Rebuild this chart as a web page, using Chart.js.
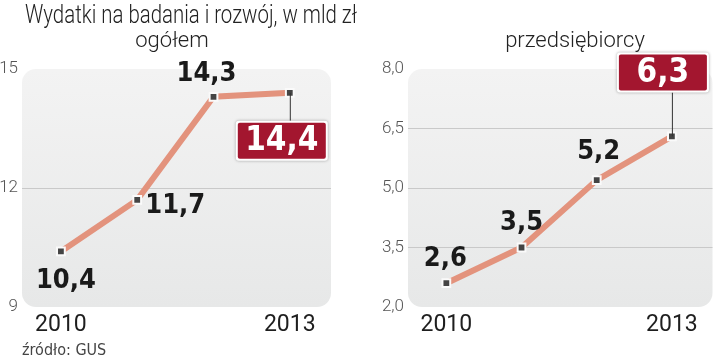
<!DOCTYPE html>
<html>
<head>
<meta charset="utf-8">
<script src="https://cdn.jsdelivr.net/npm/chart.js@4"></script>
<style>
  body { margin: 0; background: #fff; width: 720px; height: 360px; overflow: hidden; position: relative; font-family: "DejaVu Sans Condensed", sans-serif; }
  .pane { position: absolute; top: 0; width: 360px; height: 360px; }
  .txt { position: absolute; white-space: nowrap; color: #222; }
  #title { left: 25px; top: 0px; font-family: Roboto, sans-serif; font-size: 25px; font-weight: 300; transform-origin: 0 0; }
  .sub { top: 27px; font-family: Roboto, sans-serif; font-size: 22px; font-weight: 300; width: 200px; text-align: center; }
  #src { left: 22px; top: 340px; font-size: 16px; color: #444; }
</style>
</head>
<body>
<div class="pane" style="left:0"><canvas id="chartTotal"></canvas></div>
<div class="pane" style="left:360px"><canvas id="chartBiz"></canvas></div>
<div class="txt" id="title">Wydatki na badania i rozwój, w mld zł</div>
<div class="txt sub" style="left:72px">ogółem</div>
<div class="txt sub" style="left:475px">przedsiębiorcy</div>
<div class="txt" id="src">źródło: GUS</div>
<script>
// data
const years = [2010, 2011, 2012, 2013];
const totalSpend = [10.4, 11.7, 14.3, 14.4];
const bizSpend = [2.6, 3.5, 5.2, 6.3];
const totalTicks = [9, 12, 15];
const bizTicks = [2.0, 3.5, 5.0, 6.5, 8.0];
const shownYears = [2010, 2013];

// where each value label sits relative to its point: [dx, dy, boxed]
const totalLabelPos = [[5, 30, false], [38, 6, false], [-7, -23, false], [-8, 48, true]];
const bizLabelPos = [[-1, -24, false], [0, -25, false], [2, -28, false], [-9, -64, true]];

const fmt = v => v.toFixed(1).replace('.', ',');
const labelFont = '"DejaVu Sans Condensed", sans-serif';

// squeeze the headline to the width it has in the print layout
const title = document.getElementById('title');
title.style.transform = 'scaleX(' + (332 / title.getBoundingClientRect().width) + ')';

const panelBg = {
  id: 'panelBg',
  beforeDraw(chart) {
    const a = chart.chartArea, ctx = chart.ctx;
    const g = ctx.createLinearGradient(0, a.top, 0, a.bottom);
    g.addColorStop(0, '#f3f3f3');
    g.addColorStop(1, '#e7e8e8');
    ctx.save();
    ctx.fillStyle = g;
    ctx.beginPath();
    ctx.roundRect(a.left, a.top, a.right - a.left, a.bottom - a.top, 14);
    ctx.fill();
    ctx.restore();
  }
};

const valueLabels = {
  id: 'valueLabels',
  afterDatasetsDraw(chart, args, opts) {
    const ctx = chart.ctx;
    const meta = chart.getDatasetMeta(0);
    const vals = chart.data.datasets[0].data;
    meta.data.forEach((pt, i) => {
      const [dx, dy, boxed] = opts.pos[i];
      const x = pt.x + dx, y = pt.y + dy;
      const text = fmt(vals[i].y);
      ctx.save();
      ctx.textAlign = 'center';
      ctx.textBaseline = 'middle';
      if (boxed) {
        const w = 92, h = 40;
        ctx.strokeStyle = '#333';
        ctx.lineWidth = 1;
        ctx.beginPath();
        ctx.moveTo(pt.x + 0.5, pt.y);
        ctx.lineTo(pt.x + 0.5, dy > 0 ? y - h / 2 : y + h / 2);
        ctx.stroke();
        ctx.shadowColor = 'rgba(0,0,0,0.35)';
        ctx.shadowBlur = 3;
        ctx.fillStyle = '#fff';
        ctx.beginPath();
        ctx.roundRect(x - w / 2, y - h / 2, w, h, 3);
        ctx.fill();
        ctx.shadowColor = 'transparent';
        ctx.fillStyle = '#a3162f';
        ctx.beginPath();
        ctx.roundRect(x - w / 2 + 2, y - h / 2 + 2, w - 4, h - 4, 2);
        ctx.fill();
        ctx.fillStyle = '#fff';
        ctx.font = 'bold 33px ' + labelFont;
        ctx.fillText(text, x, y + 1);
      } else {
        ctx.fillStyle = '#1a1a1a';
        ctx.font = 'bold 27px ' + labelFont;
        ctx.fillText(text, x, y);
      }
      ctx.restore();
    });
  }
};

function makeChart(id, values, yTicks, yMin, yMax, yLeft, padRight, labelPos, yFmt) {
  return new Chart(document.getElementById(id), {
    type: 'line',
    data: {
      datasets: [{
        data: years.map((yr, i) => ({ x: yr, y: values[i] })),
        borderColor: '#e3937d',
        borderWidth: 6,
        pointStyle: 'rect',
        pointRadius: 5.5,
        pointBackgroundColor: '#444',
        pointBorderColor: '#fafafa',
        pointBorderWidth: 2,
        tension: 0
      }]
    },
    options: {
      responsive: false,
      animation: false,
      layout: { padding: { top: 69, right: padRight, left: 0, bottom: 0 } },
      plugins: {
        legend: { display: false },
        tooltip: { enabled: false },
        valueLabels: { pos: labelPos }
      },
      scales: {
        x: {
          type: 'linear',
          min: 2009.49,
          max: 2013.54,
          afterBuildTicks: s => { s.ticks = shownYears.map(v => ({ value: v })); },
          afterFit: s => { s.height = 53; },
          grid: { display: false, drawTicks: false },
          border: { display: false },
          ticks: {
            padding: 4,
            color: '#1e1e1e',
            font: { family: 'Roboto', size: 23 },
            callback: v => String(v)
          }
        },
        y: {
          min: yMin,
          max: yMax,
          afterBuildTicks: s => { s.ticks = yTicks.map(v => ({ value: v })); },
          afterFit: s => { s.width = yLeft; },
          grid: {
            drawTicks: false,
            color: c => (c.tick && (c.tick.value === yMin || c.tick.value === yMax)) ? 'rgba(0,0,0,0)' : '#c9c9c9',
            lineWidth: 1
          },
          border: { display: false },
          ticks: {
            padding: 4,
            color: '#555',
            font: { family: 'Roboto', size: 17, weight: 300 },
            callback: yFmt
          }
        }
      }
    },
    plugins: [panelBg, valueLabels]
  });
}

function sizeCanvas(id) {
  const c = document.getElementById(id);
  c.width = 360; c.height = 360;
  c.style.width = '360px'; c.style.height = '360px';
}
sizeCanvas('chartTotal');
sizeCanvas('chartBiz');

makeChart('chartTotal', totalSpend, totalTicks, 9, 15, 22, 29, totalLabelPos, v => String(v));
makeChart('chartBiz', bizSpend, bizTicks, 2, 8, 48, 3, bizLabelPos, v => fmt(v));
</script>
</body>
</html>
